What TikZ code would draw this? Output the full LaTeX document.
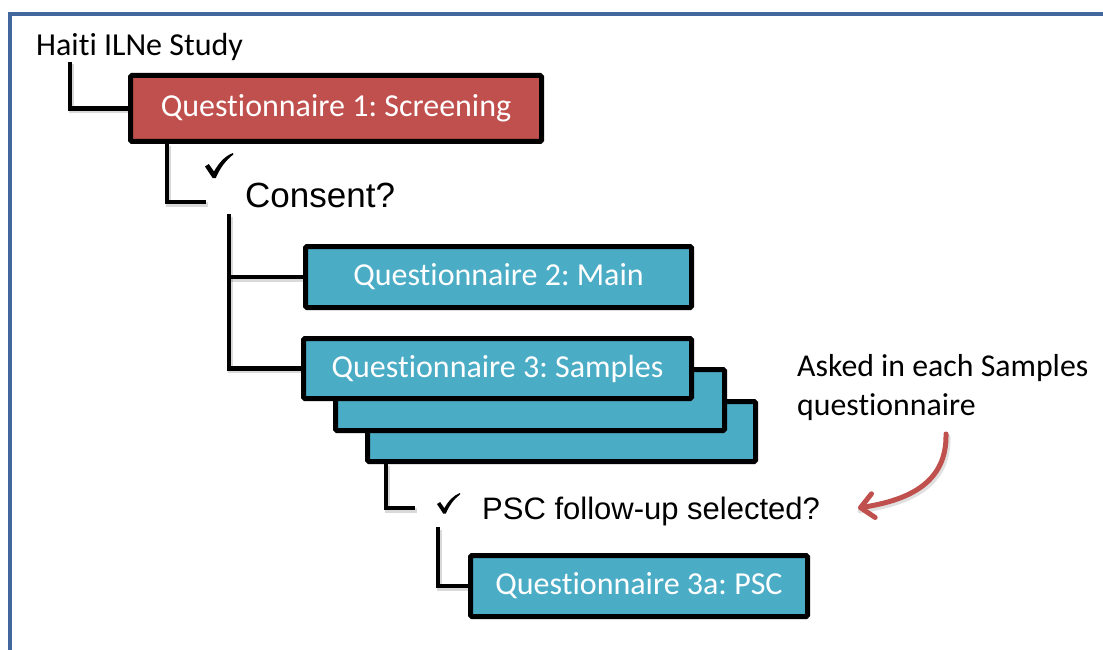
\documentclass[tikz,border=0pt]{standalone}
\usepackage{fontspec}
\setmainfont{Carlito}[Ligatures=NoCommon]
\newfontfamily\arialf{Liberation Sans}
\usetikzlibrary{arrows.meta,shadows}
\definecolor{qred}{HTML}{C0504D}
\definecolor{qteal}{HTML}{4BACC6}
\definecolor{frameblue}{HTML}{41679C}
\frenchspacing
\begin{document}
\begin{tikzpicture}[x=1pt,y=-1pt,
  qbox/.style={draw=black, line width=5pt, rounded corners=1.5pt, text=white,
    font=\fontsize{32}{36}\selectfont, inner sep=0pt,
    drop shadow={shadow xshift=2pt, shadow yshift=-2.5pt, opacity=0.2}},
  conn/.style={line width=4.5pt, black,
    preaction={draw=black, opacity=0.15, line width=4.5pt, transform canvas={xshift=1.5pt,yshift=-2.5pt}}},
  qtext/.style={inner sep=0pt, anchor=base west},
  annarrow/.style={line width=5pt, qred, line cap=round,
    -{Straight Barb[length=13pt,width=24pt,round]}},
  checkpic/.pic={\fill[black, line join=round] (0,13.5) -- (3.8,11) -- (9,18.5)
      .. controls (14,9.5) and (20,3) .. (28,0) -- (28.3,1.6)
      .. controls (21,7) and (15,15) .. (10.8,25) -- (7.6,25) -- cycle;}
]
\useasboundingbox (0,0) rectangle (1103,650);
\fill[white] (0,0) rectangle (1103,650);
% frame
\draw[frameblue, line width=3.5pt] (10,14) rectangle (1120,670);

% title
\node[qtext, font=\fontsize{32}{36}\selectfont] (title) at (36,56) {Haiti ILNe Study};

% boxes
\node[qbox, fill=qred, minimum width=411pt, minimum height=66pt] (q1) at (336,108.5) {Questionnaire 1: Screening};
\node[qbox, fill=qteal, minimum width=386pt, minimum height=61pt] (q2) at (498.5,277) {Questionnaire 2: Main};
\node[qbox, fill=qteal, minimum width=388pt, minimum height=60pt] (q3c) at (561.5,431.5) {};
\node[qbox, fill=qteal, minimum width=389pt, minimum height=61pt] (q3b) at (530,400) {};
\node[qbox, fill=qteal, minimum width=388pt, minimum height=60pt] (q3) at (497.5,368.5) {Questionnaire 3: Samples};
\node[qbox, fill=qteal, minimum width=337pt, minimum height=61pt] (q3a) at (639,586) {Questionnaire 3a: PSC};

% questions
\pic at (205,153) {checkpic};
\node[qtext, font=\arialf\fontsize{35}{40}\selectfont] (consent) at (245,207) {Consent?};
\pic[scale=0.82] at (437,493) {checkpic};
\node[qtext, font=\arialf\fontsize{31}{36}\selectfont] (psc) at (482,519) {PSC follow-up selected?};

% annotation
\node[qtext, align=left, font=\fontsize{31.8}{39}\selectfont] (ann) at (797,415) {Asked in each Samples\\questionnaire};

% connector anchor points
\coordinate (t0) at (70,62);
\coordinate (c0) at (167,144);
\coordinate (c1) at (206,202);
\coordinate (d0) at (229,214);
\coordinate (e0) at (386,463);
\coordinate (e1) at (415,508);
\coordinate (f0) at (438,527);
\coordinate (a0) at (946,434);
\coordinate (a1) at (858,508);

% connectors
\draw[conn] (t0) |- (q1.west);
\draw[conn] (c0) |- (c1);
\draw[conn] (d0) |- (q3.west);
\draw[conn] (d0 |- q2.west) -- (q2.west);
\draw[conn] (e0) |- (e1);
\draw[conn] (f0) |- (q3a.west);

% red arrow
\draw[line width=5pt, black, opacity=0.12, line cap=round, transform canvas={xshift=2pt,yshift=-3pt}]
  (a0) .. controls (947,482) and (910,500) .. (a1);
\draw[annarrow] (a0) .. controls (947,482) and (910,500) .. (a1);
\end{tikzpicture}
\end{document}
